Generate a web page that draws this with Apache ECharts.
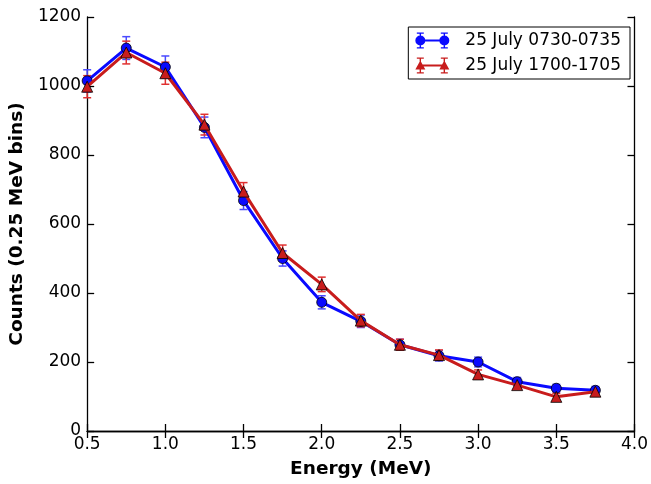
<!DOCTYPE html>
<html lang="en">
<head>
    <meta charset="UTF-8">
    <title>Counts vs Energy</title>
    <script src="https://cdn.jsdelivr.net/npm/echarts@6/dist/echarts.min.js"></script>
    <style type="text/css">
        html, body { margin: 0; padding: 0; background: #fff; }
        #dom { width: 651px; height: 484px; }
    </style>
</head>
<body>
<div id="dom"></div>
<script>
    // 数据
    var energy = [0.5, 0.75, 1.0, 1.25, 1.5, 1.75, 2.0, 2.25, 2.5, 2.75, 3.0, 3.25, 3.5, 3.75];
    var morningCounts = [1015, 1110, 1055, 880, 668, 500, 373, 318, 250, 218, 200, 143, 124, 118];
    var morningErr = [32, 33, 32, 30, 26, 22, 19, 18, 16, 15, 14, 12, 11, 11];
    var eveningCounts = [998, 1097, 1037, 888, 694, 516, 425, 320, 250, 220, 164, 133, 99, 114];
    var eveningErr = [32, 33, 32, 30, 26, 23, 21, 18, 16, 15, 13, 12, 10, 11];
    var seriesNames = ['25 July 0730-0735', '25 July 1700-1705'];

    var FONT = 'DejaVu Sans';
    var BLUE = '#0a0aff';
    var RED = '#c81c1c';

    // 图例图标：线 + 两端标记 + 误差棒
    var barPath = 'M4.3,0 L5.7,0 L5.7,16 L4.3,16 Z M1.5,0 L8.5,0 L8.5,1.3 L1.5,1.3 Z M1.5,14.7 L8.5,14.7 L8.5,16 L1.5,16 Z ' +
        'M28.3,0 L29.7,0 L29.7,16 L28.3,16 Z M25.5,0 L32.5,0 L32.5,1.3 L25.5,1.3 Z M25.5,14.7 L32.5,14.7 L32.5,16 L25.5,16 Z ' +
        'M5,7 L29,7 L29,9 L5,9 Z ';
    var circleIcon = 'path://' + barPath + 'M0,8 A5,5 0 1,1 10,8 A5,5 0 1,1 0,8 Z M24,8 A5,5 0 1,1 34,8 A5,5 0 1,1 24,8 Z';
    var triangleIcon = 'path://' + barPath + 'M0,12 L5,3 L10,12 Z M24,12 L29,3 L34,12 Z';

    function pairs(xs, ys) {
        return xs.map(function (x, i) { return [x, ys[i]]; });
    }
    function triples(xs, ys, es) {
        return xs.map(function (x, i) { return [x, ys[i], es[i]]; });
    }

    // 误差棒
    function errorBars(color) {
        return function (params, api) {
            var x = api.value(0), y = api.value(1), e = api.value(2);
            var lo = api.coord([x, y - e]);
            var hi = api.coord([x, y + e]);
            var w = 4;
            var st = { stroke: color, lineWidth: 1.5 };
            return {
                type: 'group',
                children: [
                    { type: 'line', shape: { x1: lo[0], y1: lo[1], x2: hi[0], y2: hi[1] }, style: st },
                    { type: 'line', shape: { x1: lo[0] - w, y1: lo[1], x2: lo[0] + w, y2: lo[1] }, style: st },
                    { type: 'line', shape: { x1: hi[0] - w, y1: hi[1], x2: hi[0] + w, y2: hi[1] }, style: st }
                ]
            };
        };
    }

    var tickStyle = { show: true, inside: true, length: 7, lineStyle: { color: '#000', width: 1.3 } };
    var lineStyle = { lineStyle: { color: '#000', width: 1.3 } };

    var myEcharts = echarts.init(document.getElementById('dom'));
    var option = {
        animation: false,
        backgroundColor: '#fff',
        textStyle: { fontFamily: FONT },
        grid: { left: 87, right: 13, top: 17, bottom: 51 },
        legend: {
            right: 21, top: 27,
            orient: 'vertical',
            data: [
                { name: seriesNames[0], icon: circleIcon },
                { name: seriesNames[1], icon: triangleIcon }
            ],
            backgroundColor: '#fff',
            borderColor: '#000',
            borderWidth: 1,
            borderRadius: 0,
            padding: [5, 9, 5, 7],
            itemGap: 8,
            itemWidth: 34,
            itemHeight: 16,
            itemStyle: { borderWidth: 0 },
            textStyle: { fontFamily: FONT, fontSize: 17, color: '#000', padding: [0, 0, 0, 11] }
        },
        xAxis: [{
            type: 'value', min: 0.5, max: 4.0, interval: 0.5,
            name: 'Energy (MeV)', nameLocation: 'middle', nameGap: 29,
            nameTextStyle: { fontFamily: FONT, fontSize: 18.5, fontWeight: 'bold', color: '#000' },
            axisLine: lineStyle, axisTick: tickStyle, splitLine: { show: false },
            axisLabel: { fontFamily: FONT, fontSize: 17, color: '#000', margin: 5,
                formatter: function (v) { return v.toFixed(1); } }
        }, {
            type: 'value', min: 0.5, max: 4.0, interval: 0.5, position: 'top',
            axisLine: lineStyle, axisTick: tickStyle, splitLine: { show: false },
            axisLabel: { show: false }
        }],
        yAxis: [{
            type: 'value', min: 0, max: 1200, interval: 200,
            name: 'Counts (0.25 MeV bins)', nameLocation: 'middle', nameGap: 58,
            nameTextStyle: { fontFamily: FONT, fontSize: 18.5, fontWeight: 'bold', color: '#000' },
            axisLine: { show: true, lineStyle: { color: '#000', width: 1.3 } },
            axisTick: tickStyle, splitLine: { show: false },
            axisLabel: { fontFamily: FONT, fontSize: 17, color: '#000', margin: 6,
                formatter: function (v) { return String(v); } }
        }, {
            type: 'value', min: 0, max: 1200, interval: 200, position: 'right',
            axisLine: { show: true, lineStyle: { color: '#000', width: 1.3 } },
            axisTick: tickStyle, splitLine: { show: false },
            axisLabel: { show: false }
        }],
        series: [
            {
                type: 'custom', name: 'err1', renderItem: errorBars('#4a4aff'),
                data: triples(energy, morningCounts, morningErr), z: 3, silent: true
            },
            {
                type: 'custom', name: 'err2', renderItem: errorBars('#e03030'),
                data: triples(energy, eveningCounts, eveningErr), z: 3, silent: true
            },
            {
                type: 'line', name: seriesNames[0], data: pairs(energy, morningCounts),
                symbol: 'circle', symbolSize: 10, z: 4,
                lineStyle: { color: BLUE, width: 3 },
                itemStyle: { color: BLUE, borderColor: '#000', borderWidth: 0.8 }
            },
            {
                type: 'line', name: seriesNames[1], data: pairs(energy, eveningCounts),
                symbol: 'triangle', symbolSize: 11, z: 5,
                lineStyle: { color: RED, width: 3 },
                itemStyle: { color: RED, borderColor: '#000', borderWidth: 0.8 }
            }
        ]
    };
    myEcharts.setOption(option);
</script>
</body>
</html>
